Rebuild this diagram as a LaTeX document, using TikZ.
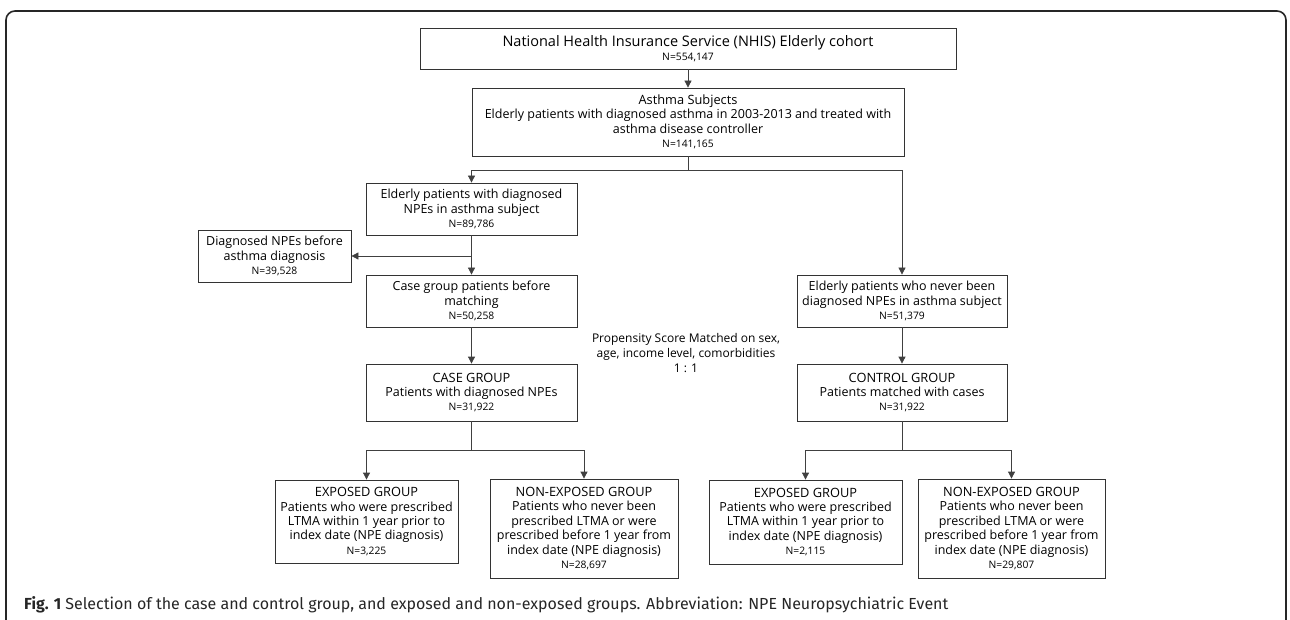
\documentclass[tikz,border=0pt]{standalone}
\usepackage{fontspec}
\setmainfont{Open Sans}
\newfontfamily\capfont{Fira Sans}
\usetikzlibrary{arrows.meta}
\newcommand{\nline}[1]{{\fontsize{10.3}{12}\selectfont #1}}
\newcommand{\gline}[1]{{\fontsize{12.8}{15}\selectfont #1}}

\begin{document}
\begin{tikzpicture}[x=1pt,y=-1pt,>={Triangle[length=7pt,width=7pt]},
  box/.style={draw=black!80,line width=0.8pt,align=center,inner sep=1pt,font=\fontsize{12.5}{14.4}\selectfont},
  link/.style={draw=black!75,line width=0.8pt}]
  \useasboundingbox (0,0) rectangle (1290,620);
  \draw[black!85,line width=1.6pt,rounded corners=9] (6,622) -- (6,11) -- (1286,11) -- (1286,622);

  \node[box,minimum width=536,minimum height=41] (nhis) at (688,48.5) {{\fontsize{14.5}{16}\selectfont National Health Insurance Service (NHIS) Elderly cohort}\\\nline{N=554,147}};
  \node[box,minimum width=432,minimum height=68] (asthma) at (688,122) {\gline{Asthma Subjects}\\Elderly patients with diagnosed asthma in 2003-2013 and treated with\\asthma disease controller\\\nline{N=141,165}};
  \node[box,minimum width=211,minimum height=52] (npe) at (471.5,209) {Elderly patients with diagnosed\\NPEs in asthma subject\\\nline{N=89,786}};
  \node[box,minimum width=153,minimum height=52] (before) at (274.5,256) {Diagnosed NPEs before\\asthma diagnosis\\\nline{N=39,528}};
  \node[box,minimum width=211,minimum height=52] (casebefore) at (471.5,301) {Case group patients before\\matching\\\nline{N=50,258}};
  \node[box,minimum width=210,minimum height=52] (never) at (902,301) {Elderly patients who never been\\diagnosed NPEs in asthma subject\\\nline{N=51,379}};
  \node[box,minimum width=211,minimum height=57] (casegrp) at (471.5,392.5) {\gline{CASE GROUP}\\Patients with diagnosed NPEs\\\nline{N=31,922}};
  \node[box,minimum width=210,minimum height=57] (ctrlgrp) at (902,392.5) {\gline{CONTROL GROUP}\\Patients matched with cases\\\nline{N=31,922}};
  \node[box,minimum width=183,minimum height=83] (caseexp) at (366.5,521.5) {\gline{EXPOSED GROUP}\\Patients who were prescribed\\LTMA within 1 year prior to\\index date (NPE diagnosis)\\\nline{N=3,225}};
  \node[box,minimum width=188,minimum height=99] (casenon) at (584,528.5) {\gline{NON-EXPOSED GROUP}\\Patients who never been\\prescribed LTMA or were\\prescribed before 1 year from\\index date (NPE diagnosis)\\\nline{N=28,697}};
  \node[box,minimum width=193,minimum height=84] (ctrlexp) at (805.5,522) {\gline{EXPOSED GROUP}\\Patients who were prescribed\\LTMA within 1 year prior to\\index date (NPE diagnosis)\\\nline{N=2,115}};
  \node[box,minimum width=187,minimum height=99] (ctrlnon) at (1011.5,528.5) {\gline{NON-EXPOSED GROUP}\\Patients who never been\\prescribed LTMA or were\\prescribed before 1 year from\\index date (NPE diagnosis)\\\nline{N=29,807}};
  \node[align=center,font=\fontsize{12}{15}\selectfont] (psm) at (686,353) {Propensity Score Matched on sex,\\age, income level, comorbidities\\1 : 1};
  \node[anchor=west,inner sep=0pt,text=black!85,font=\capfont\fontsize{16}{18}\selectfont] (cap) at (24,605) {\textbf{Fig. 1} Selection of the case and control group, and exposed and non-exposed groups. Abbreviation: NPE Neuropsychiatric Event};

  \coordinate (b1) at (688,170); \coordinate (b2) at (471.5,256);
  \coordinate (b3) at (471.5,450); \coordinate (b4) at (902,450);
  \draw[link,->] (nhis) -- (asthma); \draw[link] (asthma) -- (b1);
  \draw[link,->] (b1) -| (npe); \draw[link,->] (b1) -| (never);
  \draw[link,->] (npe) -- (casebefore); \draw[link,->] (b2) -- (before);
  \draw[link,->] (casebefore) -- (casegrp); \draw[link,->] (never) -- (ctrlgrp);
  \draw[link] (casegrp) -- (b3); \draw[link,->] (b3) -| (caseexp); \draw[link,->] (b3) -| (casenon);
  \draw[link] (ctrlgrp) -- (b4); \draw[link,->] (b4) -| (ctrlexp); \draw[link,->] (b4) -| (ctrlnon);
\end{tikzpicture}
\end{document}
